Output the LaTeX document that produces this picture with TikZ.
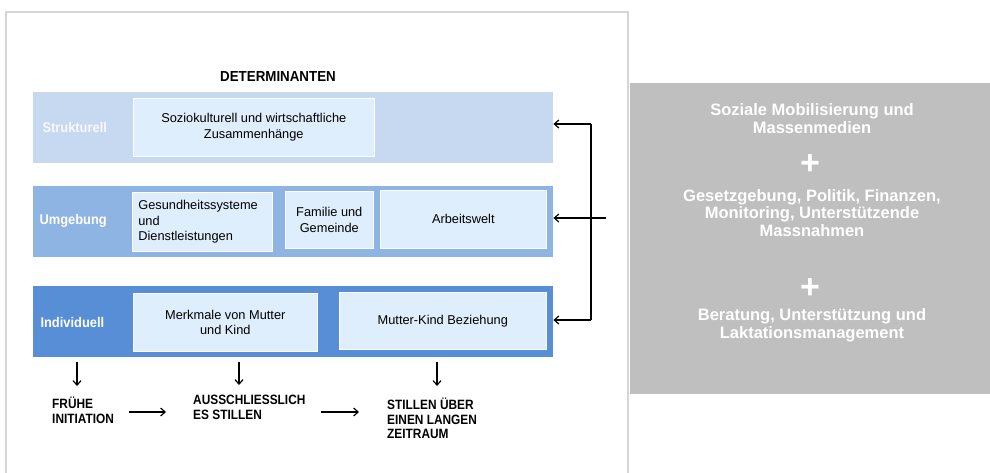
\documentclass[tikz,border=0pt]{standalone}
\usepackage{fontspec}
\setmainfont{Liberation Sans}
\newfontfamily\cond[FakeStretch=0.92]{Liberation Sans}
\newfontfamily\condb[FakeStretch=0.88]{Liberation Sans}
\usetikzlibrary{arrows.meta}
\definecolor{frameg}{RGB}{214,214,214}
\definecolor{panelg}{RGB}{191,191,191}
\definecolor{bandA}{RGB}{198,217,240}
\definecolor{bandB}{RGB}{142,180,227}
\definecolor{bandC}{RGB}{87,142,213}
\definecolor{inbox}{RGB}{222,238,252}
\begin{document}
\begin{tikzpicture}[x=1pt,y=-1pt,
  band/.style={draw=none,anchor=north west,inner sep=0pt,minimum height=71pt,minimum width=520pt},
  ibox/.style={fill=inbox,draw=white,line width=0.6pt,anchor=north west,inner sep=2pt,align=center,font=\fontsize{12.8}{15.5}\selectfont},
  blab/.style={anchor=west,text=white,font=\cond\bfseries\fontsize{14}{16}\selectfont},
  ptxt/.style={text=white,align=center,font=\bfseries\fontsize{16.5}{17.8}\selectfont},
  plus/.style={text=white,font=\bfseries\fontsize{34}{34}\selectfont},
  stxt/.style={anchor=north west,align=left,inner sep=0pt,font=\condb\bfseries\fontsize{13.5}{14.5}\selectfont},
  arr/.style={-{Straight Barb[length=4.5pt,width=8pt,line width=1.2pt]},line width=1.1pt}]
\useasboundingbox (0,0) rectangle (990,473);
\fill[white] (0,0) rectangle (990,473);
\draw[frameg,line width=1.6pt] (6,480) -- (6,12) -- (628,12) -- (628,480);
\fill[panelg] (630,83) rectangle (990,394);
% title
\node[font=\cond\bfseries\fontsize{14.5}{16}\selectfont] (title) at (278,77) {DETERMINANTEN};
% bands
\node[band,fill=bandA] (sband) at (33,92) {};
\node[band,fill=bandB] (uband) at (33,186) {};
\node[band,fill=bandC] (iband) at (33,286) {};
\node[blab,text=white!85!bandA] (slab) at (39,127) {Strukturell};
\node[blab] (ulab) at (36,221) {Umgebung};
\node[blab] (ilab) at (37,322) {Individuell};
% inner boxes
\node[ibox,minimum width=241pt,minimum height=58pt] (soz) at (133,98) {Soziokulturell und wirtschaftliche\\Zusammenhänge};
\node[ibox,minimum width=140pt,minimum height=59pt,align=left,text width=128pt] (ges) at (132,192) {Gesundheitssysteme\\und\\Dienstleistungen};
\node[ibox,minimum width=88pt,minimum height=57pt] (fam) at (285,191) {Familie und\\Gemeinde};
\node[ibox,minimum width=166pt,minimum height=58pt] (arb) at (380,190) {Arbeitswelt};
\node[ibox,minimum width=184pt,minimum height=58pt] (mer) at (133,293) {Merkmale von Mutter\\und Kind};
\node[ibox,minimum width=207pt,minimum height=57pt] (mkb) at (339,292) {Mutter-Kind Beziehung};
% feedback arrows
\coordinate (vt) at (591,124);
\coordinate (vb) at (591,320);
\coordinate (vm) at (606,218);
\draw[line width=1.1pt] (vt) -- (vb);
\draw[arr] (vt) -- (vt -| sband.east);
\draw[arr] (vb) -- (vb -| iband.east);
\draw[arr] (vm) -- (vm -| uband.east);
% outcomes
\node[stxt] (o1) at (52,397) {FRÜHE\\INITIATION};
\node[stxt] (o2) at (193,395) {AUSSCHLIESSLICH\\ES STILLEN};
\node[stxt] (o3) at (387,398) {STILLEN ÜBER\\EINEN LANGEN\\ZEITRAUM};
\coordinate (d1) at (77,362);
\coordinate (d2) at (239,362);
\coordinate (d3) at (437,362);
\draw[arr] (d1) -- (77,386);
\draw[arr] (d2) -- (239,385);
\draw[arr] (d3) -- (437,386);
\coordinate (h1a) at (129,412);
\coordinate (h2a) at (321,412);
\draw[arr] (h1a) -- (166,412);
\draw[arr] (h2a) -- (359,412);
% panel text
\node[ptxt] (p1) at (812,119) {Soziale Mobilisierung und\\Massenmedien};
\node[plus] (pl1) at (810,165) {+};
\node[ptxt] (p2) at (812,213) {Gesetzgebung, Politik, Finanzen,\\Monitoring, Unterstützende\\Massnahmen};
\node[plus] (pl2) at (810,289) {+};
\node[ptxt] (p3) at (812,325) {Beratung, Unterstützung und\\Laktationsmanagement};
\end{tikzpicture}
\end{document}
